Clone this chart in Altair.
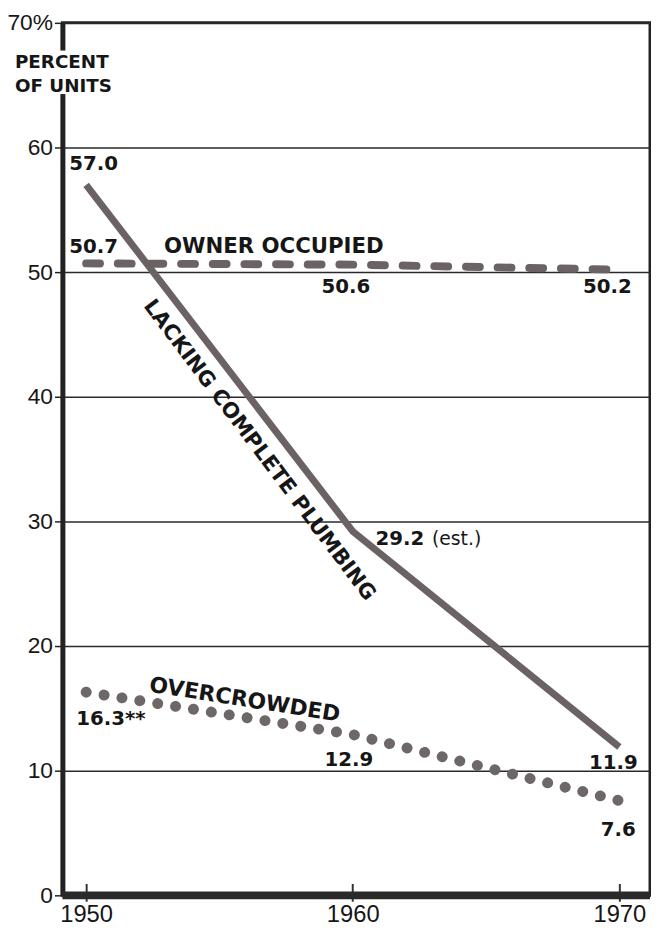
import altair as alt
import pandas as pd

# ---- data ----
years = [1950, 1960, 1970]
plumbing = [57.0, 29.2, 11.9]
owner = [50.7, 50.6, 50.2]
crowded = [16.3, 12.9, 7.6]
y_ticks = [0, 10, 20, 30, 40, 50, 60, 70]
x_ticks = [1950, 1960, 1970]

names = ["OWNER OCCUPIED", "LACKING COMPLETE PLUMBING", "OVERCROWDED"]
name_year = [1957.04, 1956.49, 1955.95]
name_value = [52.0, 35.7, 15.7]

# ---- styling ----
W, H = 594, 882
FB = "DejaVu Sans"
FR = "Liberation Sans"
INK = "#161616"
LINE = "#6b6363"

xs = alt.Scale(domain=[1949.11, 1971.15], nice=False, zero=False)
ys = alt.Scale(domain=[0, 70], nice=False, zero=False)

X = alt.X("year:Q", scale=xs, title=None,
          axis=alt.Axis(values=x_ticks, format="d", domain=False, grid=False,
                        tickSize=18, tickWidth=2, tickColor="#333", offset=-12,
                        labelPadding=1, labelFont=FR, labelFontSize=24,
                        labelColor=INK, zindex=0))
Y = alt.Y("value:Q", scale=ys, title=None,
          axis=alt.Axis(values=y_ticks, domainWidth=5, domainColor="#222",
                        tickSize=8, tickWidth=1.5, tickColor="#222",
                        grid=True, gridColor="#2a2a2a", gridWidth=1.5,
                        labelPadding=2, labelFont=FR, labelFontSize=23,
                        labelColor=INK,
                        labelExpr="datum.value == 70 ? '70%' : datum.label",
                        zindex=0))


def sdf(vals):
    return pd.DataFrame({"year": years, "value": vals})


plumb_line = alt.Chart(sdf(plumbing)).mark_line(
    color=LINE, strokeWidth=7, strokeCap="butt").encode(x=X, y=Y)
owner_line = alt.Chart(sdf(owner)).mark_line(
    color=LINE, strokeWidth=8, strokeDash=[14, 18], strokeCap="round").encode(x=X, y=Y)
crowd_line = alt.Chart(sdf(crowded)).mark_line(
    color="#6d6767", strokeWidth=11, strokeDash=[0.1, 18.2], strokeCap="round",
    strokeJoin="round").encode(x=X, y=Y)

bottom_bar = alt.Chart(pd.DataFrame({"value": [0]})).mark_rule(
    strokeWidth=8, color="#2a2a2a").encode(y=Y)


def vlabel(text, year, value, dx, dy, align="center", size=20, weight="bold", font=FB):
    d = pd.DataFrame({"year": [year], "value": [value], "t": [text]})
    return alt.Chart(d).mark_text(
        dx=dx, dy=dy, align=align, baseline="middle", fontSize=size,
        fontWeight=weight, font=font, color=INK).encode(x=X, y=Y, text="t:N")


labels = [
    vlabel(f"{plumbing[0]:.1f}", years[0], plumbing[0], -17, -21, "left"),
    vlabel(f"{owner[0]:.1f}", years[0], owner[0], -17, -17, "left"),
    vlabel(f"{owner[1]:.1f}", years[1], owner[1], -7, 23),
    vlabel(f"{owner[2]:.1f}", years[2], owner[2], -12, 18),
    vlabel(f"{plumbing[1]:.1f}", years[1], plumbing[1], 23, 8, "left"),
    vlabel("(est.)", years[1], plumbing[1], 80, 8, "left", 19, "normal"),
    vlabel(f"{plumbing[2]:.1f}", years[2], plumbing[2], -6, 16),
    vlabel(f"{crowded[0]:.1f}**", years[0], crowded[0], -10, 27, "left"),
    vlabel(f"{crowded[1]:.1f}", years[1], crowded[1], -4, 26),
    vlabel(f"{crowded[2]:.1f}", years[2], crowded[2], -1, 30),
]


def nlabel(i, angle, size):
    d = pd.DataFrame({"year": [name_year[i]], "value": [name_value[i]], "t": [names[i]]})
    return alt.Chart(d).mark_text(
        align="center", baseline="middle", angle=angle, fontSize=size,
        fontWeight="bold", font=FB, color=INK).encode(x=X, y=Y, text="t:N")


name_labels = [nlabel(0, 0, 21.5), nlabel(1, 53, 21.3), nlabel(2, 9, 22)]

one = pd.DataFrame({"k": [0]})
axis_gap = alt.Chart(one).mark_rect(color="white").encode(
    x=alt.value(-5), x2=alt.value(5), y=alt.value(28), y2=alt.value(72))
unit1 = alt.Chart(one).mark_text(
    align="left", baseline="middle", fontSize=18.5, fontWeight="bold", font=FB,
    color=INK).encode(x=alt.value(-48), y=alt.value(40), text=alt.value("PERCENT"))
unit2 = alt.Chart(one).mark_text(
    align="left", baseline="middle", fontSize=18.5, fontWeight="bold", font=FB,
    color=INK).encode(x=alt.value(-48), y=alt.value(64), text=alt.value("OF UNITS"))

chart = alt.layer(
    plumb_line, owner_line, crowd_line, bottom_bar, *labels, *name_labels,
    axis_gap, unit1, unit2
).properties(
    width=W, height=H,
    padding={"left": 55, "top": 10, "right": 1, "bottom": 26},
    autosize=alt.AutoSizeParams(type="none"),
    background="white",
).configure_view(stroke="#222", strokeWidth=3)

chart.save("out.html", embed_options={"renderer": "svg", "actions": False})
